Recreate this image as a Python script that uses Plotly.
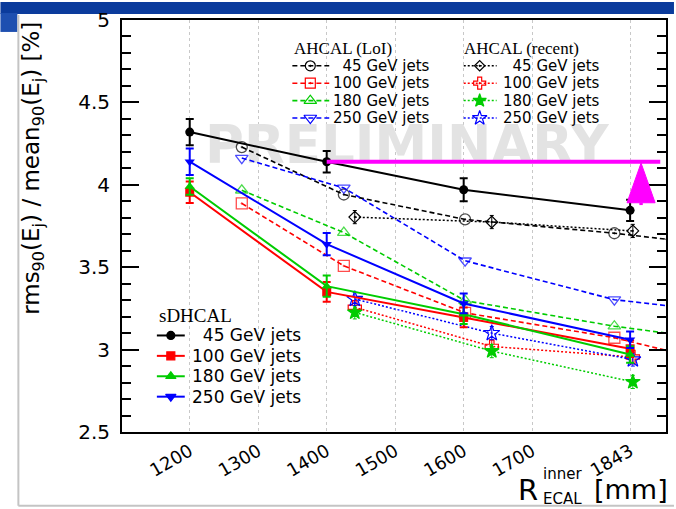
import plotly.graph_objects as go

# ---------------- data ----------------
tick_vals = [1200, 1300, 1400, 1500, 1600, 1700, 1843]
tick_text = ["1200", "1300", "1400", "1500", "1600", "1700", "1843"]

# sDHCAL (solid lines, filled markers, error bars)
sd_x = [1200, 1400, 1600, 1843]
sd_45 = [4.32, 4.14, 3.97, 3.845]
sd_45_err = [0.08, 0.065, 0.07, 0.065]
sd_100 = [3.955, 3.35, 3.195, 3.005]
sd_100_err = [0.065, 0.06, 0.06, 0.05]
sd_180 = [3.99, 3.385, 3.215, 2.97]
sd_180_err = [0.05, 0.065, 0.06, 0.05]
sd_250 = [4.14, 3.64, 3.28, 3.06]
sd_250_err = [0.08, 0.068, 0.06, 0.05]

# AHCAL (LoI) (dashed lines, open markers); line continues to the frame edge
loi_x = [1276, 1425, 1602, 1820]
loi_edge_x = 1896
loi_45 = [4.229, 3.941, 3.79, 3.706]
loi_45_edge = 3.67
loi_100 = [3.887, 3.508, 3.223, 3.072]
loi_100_edge = 2.995
loi_180 = [3.967, 3.71, 3.297, 3.142]
loi_180_edge = 3.10
loi_250 = [4.162, 3.981, 3.539, 3.303]
loi_250_edge = 3.267

# AHCAL (recent) (dotted lines)
rec_x = [1441, 1641, 1847]
rec_45 = [3.804, 3.774, 3.72]
rec_100 = [3.257, 3.019, 2.955]
rec_180 = [3.226, 2.991, 2.804]
rec_250 = [3.307, 3.10, 2.94]
rec_err = 0.04

labels = ["45 GeV jets", "100 GeV jets", "180 GeV jets", "250 GeV jets"]

# ---------------- layout constants ----------------
W, H = 676, 509
ML, MR, MT, MB = 122, 8, 18, 77
PW = W - ML - MR
PH = H - MT - MB
X_RANGE = [1101.1, 1895.4]
Y_RANGE = [2.5, 5.0]


def pxp(x):
    return (x - ML) / PW


def pyp(y):
    return (H - MB - y) / PH


BLACK, RED, GREEN, BLUE, MAG = "#000000", "#ff0000", "#00cc00", "#0000ff", "#ff00ff"
COLORS = [BLACK, RED, GREEN, BLUE]
SANS = "DejaVu Sans"
SERIF = "Liberation Serif"

fig = go.Figure()

# watermark (drawn first, behind all data)
fig.add_trace(go.Scatter(x=[1517], y=[4.21], mode="text", text=["PRELIMINARY"],
                         textfont=dict(family=SANS, size=53, color="#e3e3e3", weight="bold"),
                         hoverinfo="skip", showlegend=False))

# LoI
loi_sets = [loi_45, loi_100, loi_180, loi_250]
loi_edges = [loi_45_edge, loi_100_edge, loi_180_edge, loi_250_edge]
loi_sym = ["circle-open-dot", "square-open-dot", "triangle-up-open", "triangle-down-open"]
for ys, ye, c, s in zip(loi_sets, loi_edges, COLORS, loi_sym):
    fig.add_trace(go.Scatter(x=loi_x + [loi_edge_x], y=ys + [ye], mode="lines+markers",
                             line=dict(color=c, width=1.6, dash="5px,3px"),
                             marker=dict(symbol=s, size=[11, 11, 11, 11, 0], color=c,
                                         line=dict(color=c, width=1.3)),
                             showlegend=False, cliponaxis=True))

# recent
rec_sets = [rec_45, rec_100, rec_180, rec_250]
rec_sym = ["diamond-open-dot", "cross-open-dot", "star", "star-open"]
rec_size = [9, 11, 11, 12]
for ys, c, s, sz in zip(rec_sets, COLORS, rec_sym, rec_size):
    fig.add_trace(go.Scatter(x=rec_x, y=ys, mode="lines+markers",
                             line=dict(color=c, width=1.5, dash="2px,2px"),
                             marker=dict(symbol=s, size=sz, color=c, line=dict(color=c, width=1.2)),
                             error_y=dict(type="constant", value=rec_err, color=c, thickness=1, width=2),
                             showlegend=False))

# sDHCAL
sd_sets = [sd_45, sd_100, sd_180, sd_250]
sd_errs = [sd_45_err, sd_100_err, sd_180_err, sd_250_err]
sd_sym = ["circle", "square", "triangle-up", "triangle-down"]
for ys, es, c, s in zip(sd_sets, sd_errs, COLORS, sd_sym):
    fig.add_trace(go.Scatter(x=sd_x, y=ys, mode="lines+markers",
                             line=dict(color=c, width=2),
                             marker=dict(symbol=s, size=9, color=c),
                             error_y=dict(type="data", array=es, color=c, thickness=2, width=4),
                             showlegend=False))

# ---------------- manual legends (pixel overlay axes) ----------------
legends = [
    dict(title="AHCAL (LoI)", tx=293, ty=46.5, ts=17, rows=[64, 81.5, 99, 116.5],
         lx=(293, 330), mx=311, txt=332, fs=15, dash="5px,3px", sym=loi_sym, msz=[10, 10, 11, 11], lw=1.6),
    dict(title="AHCAL (recent)", tx=463, ty=46.5, ts=17, rows=[64, 81.5, 99, 116.5],
         lx=(465, 498), mx=481, txt=502, fs=15, dash="2px,2px", sym=rec_sym, msz=[8, 10, 10, 11], lw=1.5),
    dict(title="sDHCAL", tx=157, ty=315, ts=19, rows=[335, 355.5, 376, 396.5],
         lx=(157, 185), mx=171, txt=190, fs=17, dash="solid", sym=sd_sym, msz=[8, 8, 9, 9], lw=2),
]
annotations = []
for lg in legends:
    annotations.append(dict(x=lg["tx"], y=lg["ty"], xref="x2", yref="y2", text=lg["title"],
                            showarrow=False, xanchor="left", yanchor="middle",
                            font=dict(family=SERIF, size=lg["ts"], color="black")))
    for ry, c, s, sz, lab in zip(lg["rows"], COLORS, lg["sym"], lg["msz"], labels):
        fig.add_trace(go.Scatter(x=list(lg["lx"]), y=[ry, ry], mode="lines", xaxis="x2", yaxis="y2",
                                 line=dict(color=c, width=lg["lw"], dash=lg["dash"]),
                                 showlegend=False, hoverinfo="skip"))
        fig.add_trace(go.Scatter(x=[lg["mx"]], y=[ry], mode="markers", xaxis="x2", yaxis="y2",
                                 marker=dict(symbol=s, size=sz, color=c, line=dict(color=c, width=1.2)),
                                 showlegend=False, hoverinfo="skip"))
        t = ("\u2007" + lab) if lab.startswith("45") else lab
        annotations.append(dict(x=lg["txt"], y=ry, xref="x2", yref="y2", text=t, showarrow=False,
                                xanchor="left", yanchor="middle",
                                font=dict(family=SANS, size=lg["fs"], color="black")))

# axis titles
annotations.append(dict(x=pxp(32), y=pyp(18), xref="paper", yref="paper",
                        text="rms<sub>90</sub>(E<sub>j</sub>) / mean<sub>90</sub>(E<sub>j</sub>) [%]",
                        textangle=-90, showarrow=False, xanchor="center", yanchor="top",
                        font=dict(family=SANS, size=23, color="black")))
annotations.append(dict(x=pxp(517), y=pyp(490), xref="paper", yref="paper", text="R",
                        showarrow=False, xanchor="left", yanchor="middle",
                        font=dict(family=SANS, size=29, color="black")))
annotations.append(dict(x=pxp(543), y=pyp(474), xref="paper", yref="paper", text="inner",
                        showarrow=False, xanchor="left", yanchor="middle",
                        font=dict(family=SANS, size=15, color="black")))
annotations.append(dict(x=pxp(543), y=pyp(499), xref="paper", yref="paper", text="ECAL",
                        showarrow=False, xanchor="left", yanchor="middle",
                        font=dict(family=SANS, size=15, color="black")))
annotations.append(dict(x=pxp(594), y=pyp(490), xref="paper", yref="paper", text="[mm]",
                        showarrow=False, xanchor="left", yanchor="middle",
                        font=dict(family=SANS, size=27, color="black")))

# ---------------- shapes ----------------
MAG_END_X = 1887
ARROW_X, ARROW_HALF = 1859, 20.5
ARROW_TIP, ARROW_BASE, ARROW_STEM = 4.132, 3.891, 3.877
shapes = [
    dict(type="rect", xref="paper", yref="paper", x0=pxp(0), x1=pxp(W), y0=pyp(12), y1=pyp(0),
         fillcolor="#0b3b9c", line=dict(width=0), layer="below"),
    dict(type="rect", xref="paper", yref="paper", x0=pxp(0), x1=pxp(17), y0=pyp(30), y1=pyp(11),
         fillcolor="#1e4fb0", line=dict(width=0), layer="below"),
    dict(type="line", xref="paper", yref="paper", x0=pxp(18), x1=pxp(18), y0=pyp(13), y1=pyp(506),
         line=dict(color="#c4c4c4", width=2), layer="below"),
    dict(type="line", xref="paper", yref="paper", x0=pxp(18), x1=pxp(W), y0=pyp(506), y1=pyp(506),
         line=dict(color="#c4c4c4", width=2), layer="below"),
    dict(type="line", xref="x", yref="y", x0=sd_x[1], x1=MAG_END_X, y0=sd_45[1], y1=sd_45[1],
         line=dict(color=MAG, width=4)),
    dict(type="path", xref="x", yref="y",
         path=(f"M {ARROW_X - ARROW_HALF},{ARROW_BASE} L {ARROW_X},{ARROW_TIP} "
               f"L {ARROW_X + ARROW_HALF},{ARROW_BASE} Z"),
         fillcolor=MAG, line=dict(color=MAG, width=1)),
    dict(type="rect", xref="x", yref="y", x0=ARROW_X - 2.5, x1=ARROW_X + 2.5,
         y0=ARROW_STEM, y1=ARROW_BASE, fillcolor=MAG, line=dict(width=0)),
]

fig.update_layout(
    width=W, height=H,
    margin=dict(l=ML, r=MR, t=MT, b=MB, pad=0),
    paper_bgcolor="white", plot_bgcolor="white",
    showlegend=False,
    xaxis=dict(range=X_RANGE, tickmode="array", tickvals=tick_vals, ticktext=tick_text,
               tickangle=-30, ticks="", showgrid=True, gridcolor="#c8c8c8", gridwidth=1,
               griddash="dot", showline=True, linecolor="black", linewidth=2, mirror=True,
               zeroline=False, tickfont=dict(family=SANS, size=18, color="black")),
    yaxis=dict(range=Y_RANGE, tickmode="array", tickvals=[2.5, 3, 3.5, 4, 4.5, 5],
               ticktext=["2.5", "3", "3.5", "4", "4.5", "5"],
               ticks="inside", ticklen=17, tickwidth=2, tickcolor="black",
               minor=dict(dtick=0.1, ticks="inside", ticklen=9, tickwidth=2, tickcolor="black"),
               showgrid=False, zeroline=False, showline=True, linecolor="black", linewidth=2,
               mirror="allticks", ticklabelstandoff=6,
               tickfont=dict(family=SANS, size=20, color="black")),
    xaxis2=dict(overlaying="x", range=[ML, W - MR], visible=False, anchor="y2"),
    yaxis2=dict(overlaying="y", range=[H - MB, MT], visible=False, anchor="x2"),
    annotations=annotations,
    shapes=shapes,
)

fig.write_html("out.html", config={"displayModeBar": False},
               post_script="document.body.style.margin='0px';document.body.style.overflow='hidden';")
